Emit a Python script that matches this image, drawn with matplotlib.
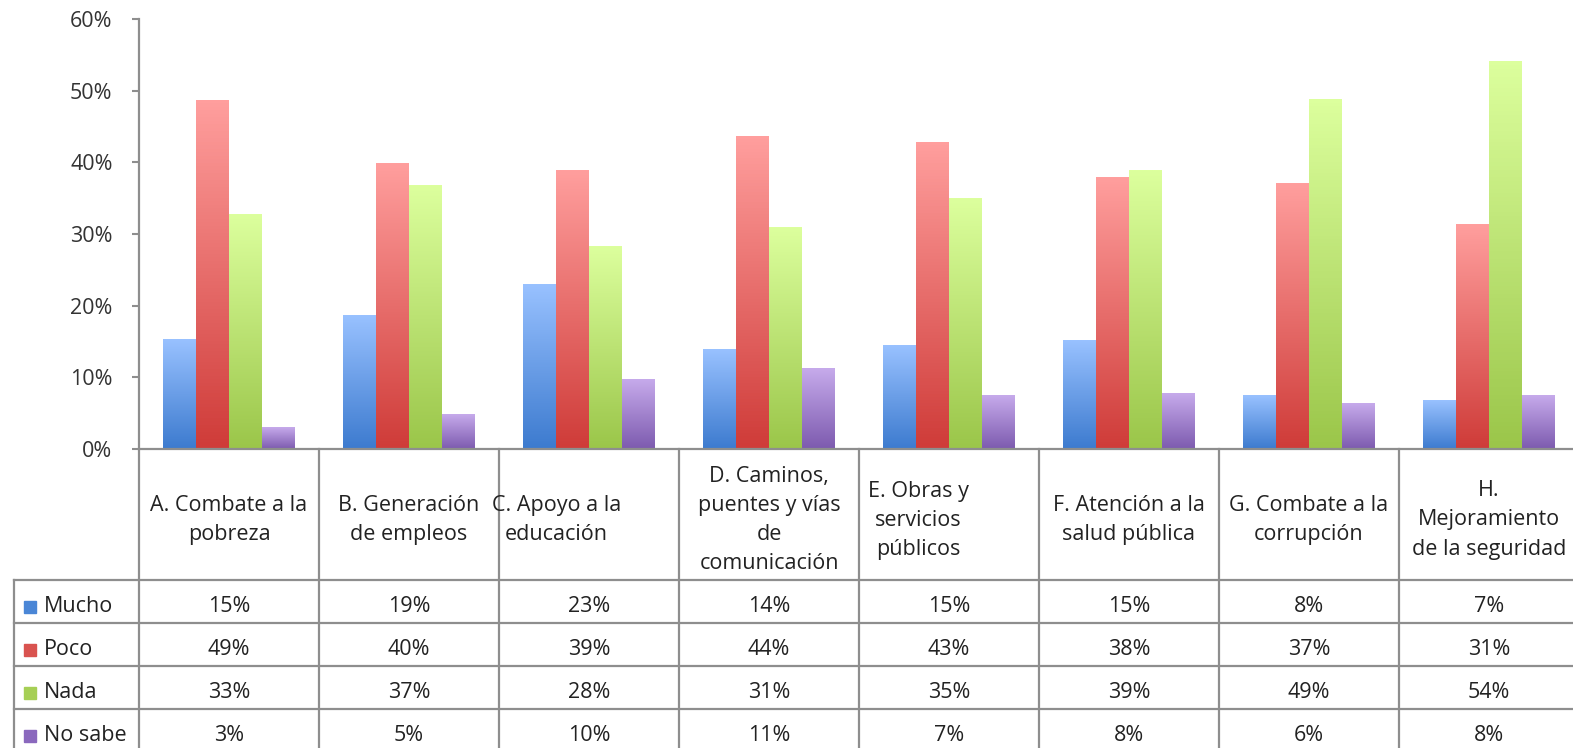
import matplotlib.pyplot as plt
import matplotlib.transforms as mtransforms
import numpy as np
from matplotlib.colors import LinearSegmentedColormap

plt.rcParams['font.family'] = ['Open Sans', 'DejaVu Sans']

categories = ['A. Combate a la\npobreza', 'B. Generación\nde empleos',
              'C. Apoyo a la\neducación', 'D. Caminos,\npuentes y vías\nde\ncomunicación',
              'E. Obras y\nservicios\npúblicos', 'F. Atención a la\nsalud pública',
              'G. Combate a la\ncorrupción', 'H.\nMejoramiento\nde la seguridad']
series = ['Mucho', 'Poco', 'Nada', 'No sabe']

mucho = [15.3, 18.6, 22.9, 13.9, 14.5, 15.1, 7.5, 6.7]
poco = [48.6, 39.8, 38.9, 43.6, 42.7, 37.9, 37.1, 31.3]
nada = [32.7, 36.7, 28.3, 30.9, 35.0, 38.9, 48.7, 54.1]
no_sabe = [3.0, 4.8, 9.7, 11.3, 7.4, 7.7, 6.4, 7.5]
table_labels = [['15%', '19%', '23%', '14%', '15%', '15%', '8%', '7%'],
                ['49%', '40%', '39%', '44%', '43%', '38%', '37%', '31%'],
                ['33%', '37%', '28%', '31%', '35%', '39%', '49%', '54%'],
                ['3%', '5%', '10%', '11%', '7%', '8%', '6%', '8%']]
values = [mucho, poco, nada, no_sabe]

# bottom / top colours of each bar gradient, plus legend key colour
grad = [('#3d7bcf', '#98c1ff'), ('#cf3c39', '#ff9e9d'),
        ('#9bc64a', '#dcff9d'), ('#7d5baf', '#c6aaeb')]
keys = ['#4a86d6', '#d9534f', '#a6cf55', '#8a68bd']

W, H = 1573, 748
fig = plt.figure(figsize=(W / 100, H / 100), dpi=100)
ax = fig.add_axes([139 / W, 1 - 449 / H, 1440 / W, 430 / H])

n = len(categories)
x = np.arange(n)
bw = 0.183
grey = '#8e8e8e'
fs = 15.5

for i, vals in enumerate(values):
    bars = ax.bar(x + (i - 1.5) * bw, vals, bw, color='none', zorder=2)
    cmap = LinearSegmentedColormap.from_list('g%d' % i, [grad[i][0], grad[i][1]])
    for b in bars:
        x0, y0 = b.get_x(), b.get_y()
        ax.imshow(np.linspace(0, 1, 100).reshape(-1, 1), cmap=cmap, origin='lower',
                  extent=[x0, x0 + b.get_width(), y0, y0 + b.get_height()],
                  aspect='auto', zorder=2)

ax.set_xlim(-0.5, n - 0.5)
ax.set_ylim(0, 60)
ax.set_yticks(range(0, 61, 10))
ax.set_yticklabels(['%d%%' % v for v in range(0, 61, 10)], fontsize=fs, color='#333333')
ax.tick_params(axis='y', length=5, width=1.5, color=grey, pad=14)
ax.set_xticks([])
for s in ['top', 'right']:
    ax.spines[s].set_visible(False)
for s in ['left', 'bottom']:
    ax.spines[s].set_color(grey)
    ax.spines[s].set_linewidth(1.6)

# data table under the chart
tr = mtransforms.blended_transform_factory(ax.transData, fig.transFigure)
def fy(py):
    return 1 - py / H

row_tops = [580, 623, 666, 709, 752]
for k in range(1, n + 1):
    ax.plot([k - 0.5, k - 0.5], [fy(449), fy(H)], transform=tr, color=grey,
            lw=1.6, clip_on=False)
ax.plot([139 / W, 139 / W], [fy(449), 0], transform=fig.transFigure, color=grey,
        lw=1.6, clip_on=False)
ax.plot([14 / W, 14 / W], [fy(580), 0], transform=fig.transFigure, color=grey,
        lw=1.6, clip_on=False)
for py in row_tops[:4]:
    ax.plot([14 / W, 1], [fy(py), fy(py)], transform=fig.transFigure, color=grey,
            lw=1.6, clip_on=False)

head_shift = [0, 0, -0.18, 0, -0.17, 0, 0, 0]
for k, c in enumerate(categories):
    ax.text(k + head_shift[k], fy(520), c, transform=tr, ha='center', va='center',
            fontsize=fs, linespacing=1.5, color='#222222')

for r, name in enumerate(series):
    cy = fy((row_tops[r] + row_tops[r + 1]) / 2 + 5)
    fig.patches.append(plt.Rectangle((24 / W, cy - 6 / H), 12 / W, 12 / H,
                                     transform=fig.transFigure, color=keys[r]))
    fig.text(44 / W, cy, name, ha='left', va='center', fontsize=fs, color='#222222')
    for k in range(n):
        ax.text(k, cy, table_labels[r][k], transform=tr, ha='center', va='center',
                fontsize=fs, color='#222222')

fig.savefig('out.png', dpi=100)
